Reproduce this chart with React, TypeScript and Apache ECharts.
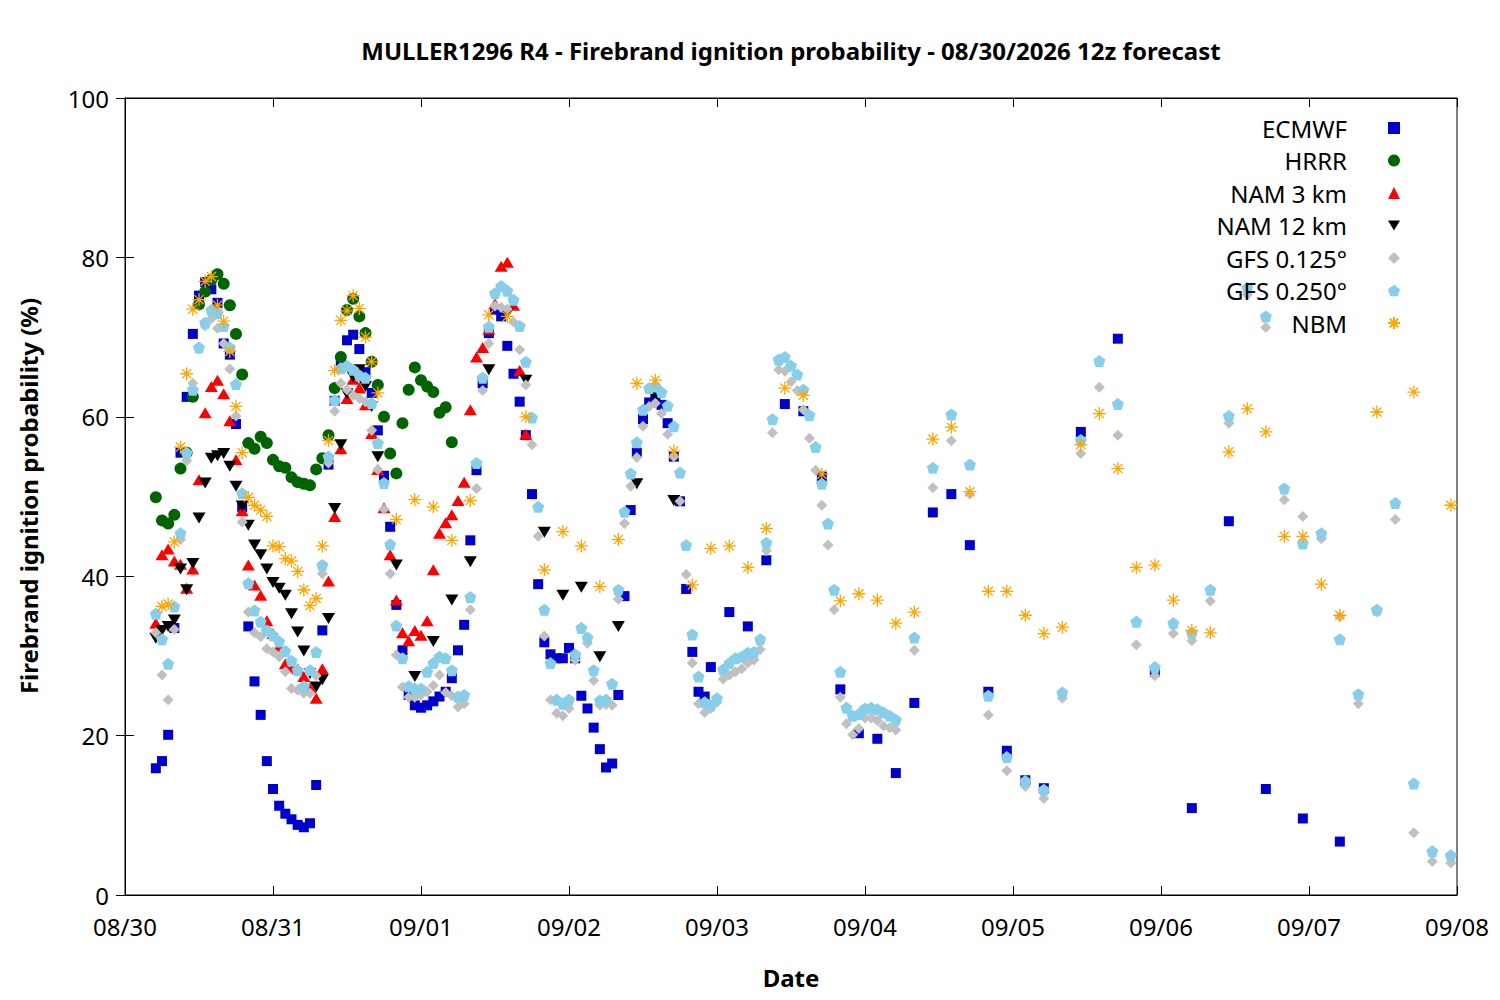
import React, { useEffect, useRef } from "react";
import * as echarts from "echarts";

// x = hours since 08/30 00:00 (local), y = ignition probability (%)
const dateLabels = ["08/30", "08/31", "09/01", "09/02", "09/03", "09/04", "09/05", "09/06", "09/07", "09/08"];

// ECMWF: hourly from h5, 3-hourly from h98, 6-hourly from h155
const ecmwfHourly = [
  15.9, 16.8, 20.1, 33.5, 55.5, 62.5, 70.4, 75.2, 76.9, 76.0,
  74.3, 69.2, 67.8, 59.1, 48.7, 33.7, 26.8, 22.6, 16.8, 13.3,
  11.2, 10.2, 9.5, 8.8, 8.5, 9.0, 13.8, 33.2, 54.0, 62.0,
  66.5, 69.6, 70.3, 68.5, 65.6, 63.0, 58.3, 52.6, 46.2, 36.4,
  30.7, 25.1, 23.8, 23.5, 23.8, 24.3, 24.9, 25.5, 27.2, 30.7,
  33.9, 44.5, 53.3, 64.2, 70.5, 73.4, 72.6, 68.9, 65.4, 61.9,
  57.7, 50.3, 39.0, 31.7, 30.2, 29.7, 29.7, 31.0, 29.7, 25.0,
  23.4, 21.0, 18.3, 16.0, 16.5, 25.1, 37.5, 48.3, 55.5, 59.7,
  61.8, 62.3, 61.5, 59.2, 55.0, 49.4, 38.4, 30.5, 25.5, 24.9, 28.6,
];
const ecmwf3h = [35.5, 33.7, 42.0, 61.6, 60.7, 52.5, 25.8, 20.3, 19.6, 15.3, 24.1, 48.0, 50.3, 43.9, 25.5, 18.1, 14.4, 13.4];
const ecmwf6h = [58.1, 69.8, 28.0, 10.9, 46.9, 13.3, 9.6, 6.7];

// HRRR: hourly from h5
const hrrrHourly = [
  49.9, 47.0, 46.6, 47.7, 53.5, 55.5, 62.5, 74.1, 75.7, 77.2,
  77.9, 76.7, 74.0, 70.4, 65.3, 56.7, 56.0, 57.5, 56.7, 54.6,
  53.8, 53.6, 52.4, 51.8, 51.6, 51.4, 53.4, 54.8, 57.7, 63.6,
  67.5, 73.4, 74.8, 72.6, 70.5, 66.9, 64.0, 60.0, 55.4, 52.9,
  59.2, 63.4, 66.2, 64.6, 63.8, 63.1, 60.5, 61.2, 56.8,
];

// NAM 3 km: hourly from h5
const nam3Hourly = [
  34.1, 42.7, 43.4, 41.9, 41.5, 38.5, 40.9, 52.1, 60.5, 63.8,
  64.6, 62.9, 59.5, 54.6, 48.2, 41.4, 38.9, 37.6, 34.4, 32.8,
  31.2, 29.0, 28.6, 28.4, 27.4, 26.0, 24.7, 28.4, 39.4, 47.5,
  56.0, 62.3, 64.7, 63.6, 61.5, 57.9, 53.4, 48.6, 42.7, 37.0,
  32.9, 31.9, 33.2, 32.6, 34.4, 40.8, 45.4, 46.7, 47.7, 49.5,
  51.8, 60.9, 67.5, 68.7, 71.0, 74.2, 78.9, 79.4, 74.0, 65.8, 57.8,
];

// NAM 12 km: hourly from h5, 3-hourly from h44
const nam12Hourly = [
  32.2, 33.2, 33.7, 34.5, 40.9, 38.3, 41.6, 47.3, 51.7, 54.8,
  55.1, 55.4, 53.8, 51.3, 48.8, 46.4, 43.9, 42.7, 40.9, 39.2,
  38.5, 37.6, 35.3, 33.0, 30.6, 27.8, 26.1, 27.0, 34.7, 48.5,
  56.5, 62.9, 65.0, 65.9, 63.8, 61.3, 55.0,
];
const nam12_3h = [41.4, 27.4, 31.8, 37.0, 41.8, 65.9, 73.0, 64.6, 45.5, 37.6, 38.6, 29.9, 33.7, 51.6, 62.7, 49.5];

// GFS 0.125: hourly from h5, 3-hourly from h128
const gfs125Hourly = [
  32.9, 27.6, 24.5, 33.3, 44.6, 54.5, 64.2, 68.5, 71.4, 72.3,
  71.1, 69.2, 66.0, 60.1, 46.8, 35.5, 32.9, 32.4, 30.9, 30.5,
  29.9, 28.0, 25.9, 25.7, 25.3, 25.3, 27.5, 40.3, 54.2, 60.7,
  64.2, 63.4, 62.7, 62.3, 61.9, 58.3, 53.4, 48.4, 40.3, 30.1,
  26.1, 24.8, 24.8, 25.1, 25.5, 26.3, 27.6, 25.4, 25.0, 23.6,
  24.0, 35.8, 51.0, 63.3, 69.2, 73.9, 73.7, 73.5, 71.9, 68.4,
  64.0, 56.5, 45.0, 32.5, 24.5, 22.8, 22.5, 23.4, 29.5, 33.6,
  31.6, 26.9, 23.8, 23.9, 23.8, 37.1, 46.6, 51.3, 54.9, 58.8,
  61.3, 61.7, 60.4, 57.8, 55.0, 49.4, 40.2, 29.1, 24.0, 22.9,
  23.4, 24.2, 27.1, 27.6, 28.0, 28.4, 29.1, 29.5, 30.8, 43.2,
  58.0, 65.9, 65.7, 64.4, 63.3, 60.9, 57.3, 53.3, 48.9, 43.9,
  35.8, 24.8, 21.5, 20.1, 20.9, 22.2, 22.2, 21.9, 21.2, 21.0, 20.7,
];
const gfs125_3h = [
  30.7, 51.1, 57.0, 50.3, 22.6, 15.6, 13.6, 12.1, 24.7, 55.4,
  63.7, 57.7, 31.4, 27.5, 32.8, 31.9, 36.9, 59.2, 75.3, 71.2,
  49.6, 47.5, 44.7, 34.9, 24.0, 35.5, 47.1, 7.8, 4.2, 4.0,
];

// GFS 0.250: hourly from h5, 3-hourly from h128
const gfs250Hourly = [
  35.3, 32.1, 29.0, 36.2, 45.4, 55.5, 63.4, 68.7, 71.8, 73.4,
  73.0, 71.4, 68.7, 64.1, 50.4, 39.1, 35.7, 34.3, 33.2, 32.6,
  31.8, 30.6, 29.4, 28.2, 26.2, 28.2, 30.5, 41.4, 55.0, 62.1,
  66.1, 66.4, 65.9, 65.2, 64.9, 61.7, 56.7, 51.7, 44.0, 33.8,
  29.7, 26.2, 25.9, 25.9, 28.0, 29.1, 29.9, 29.7, 28.2, 24.9,
  25.1, 37.4, 54.2, 64.9, 71.3, 75.5, 76.4, 75.8, 74.7, 71.4,
  66.9, 59.9, 48.7, 35.8, 29.1, 24.5, 24.0, 24.5, 30.2, 33.5,
  32.3, 28.2, 24.4, 24.5, 26.5, 38.3, 48.1, 52.9, 56.8, 60.9,
  63.6, 63.8, 63.1, 61.4, 58.8, 53.0, 43.9, 32.7, 27.4, 24.2,
  23.8, 24.7, 28.3, 29.1, 29.7, 29.9, 30.4, 30.5, 32.1, 44.2,
  59.7, 67.2, 67.5, 66.4, 65.3, 63.4, 60.2, 56.2, 51.6, 46.6,
  38.3, 28.0, 23.5, 22.5, 22.7, 23.4, 23.5, 23.3, 22.9, 22.5, 22.0,
];
const gfs250_3h = [
  32.3, 53.6, 60.3, 54.0, 25.0, 17.3, 14.3, 13.2, 25.4, 57.1,
  67.0, 61.6, 34.3, 28.6, 34.1, 32.9, 38.3, 60.1, 76.2, 72.6,
  51.0, 44.1, 45.4, 32.1, 25.2, 35.8, 49.2, 14.0, 5.5, 5.0,
];

// NBM: hourly from h6, 3-hourly from h44, 6-hourly from h203
const nbmHourly = [
  36.2, 36.5, 44.3, 56.2, 65.4, 73.5, 74.7, 77.0, 77.6, 74.0,
  72.0, 68.2, 61.3, 55.5, 49.9, 48.9, 48.3, 47.5, 43.8, 43.7,
  42.2, 41.9, 40.6, 38.3, 36.3, 37.2, 43.8, 57.0, 65.8, 72.1,
  73.3, 75.2, 73.6, 70.0, 66.9, 63.0,
];
const nbm3h = [
  47.1, 49.6, 48.7, 44.5, 49.5, 72.8, 72.6, 60.0, 40.8, 45.6,
  43.8, 38.7, 44.6, 64.2, 64.6, 55.7, 38.9, 43.5, 43.8, 41.1,
  46.0, 63.6, 62.7, 52.8, 36.9, 37.8, 37.0, 34.1, 35.5, 57.2,
  58.7, 50.6, 38.1, 38.1, 35.1, 32.8, 33.6, 56.5, 60.4, 53.5,
  41.1, 41.4, 37.0, 33.2, 32.9, 55.6, 61.0, 58.1, 45.0, 45.0,
  39.0, 35.1,
];
const nbm6h = [60.6, 63.1, 48.9];

const seg = (start: number, step: number, values: number[]) =>
  values.map((v, i) => [start + i * step, v]);

const FONT = "Noto Sans";
const PENTAGON = "path://M50,0 L97.6,34.5 L79.4,90.5 L20.6,90.5 L2.4,34.5 Z";
const DOWN_TRI = "path://M0,0 L20,0 L10,17 Z";
const ASTERISK = "path://M0,50 L100,50 M50,0 L50,100 M15,15 L85,85 M85,15 L15,85";

export default function App() {
  const ref = useRef<HTMLDivElement>(null);
  useEffect(() => {
    if (!ref.current) return;
    const chart = echarts.init(ref.current, undefined, { renderer: "svg" });
    const xCommon = {
      type: "value",
      min: 0,
      max: 216,
      interval: 24,
      splitLine: { show: false },
      axisLine: { show: true, onZero: false, lineStyle: { color: "#000", width: 1 } },
      axisTick: { show: true, inside: true, length: 9, lineStyle: { color: "#000" } },
    };
    const yCommon = {
      type: "value",
      min: 0,
      max: 100,
      interval: 20,
      splitLine: { show: false },
      axisLine: { show: true, lineStyle: { color: "#000", width: 1 } },
      axisTick: { show: true, inside: true, length: 9, lineStyle: { color: "#000" } },
    };
    const scatter = (name: string, data: number[][], symbol: string, size: any, color: string, extra: any = {}) => ({
      name,
      type: "scatter",
      data,
      symbol,
      symbolSize: size,
      itemStyle: { color, opacity: 1, ...(extra.itemStyle || {}) },
      emphasis: { disabled: true },
      z: 2,
    });
    const bold24 = `bold 24px "${FONT}"`;
    chart.setOption({
      animation: false,
      backgroundColor: "#fff",
      grid: { left: 125, right: 43, top: 98, bottom: 105, show: true, borderColor: "#000", borderWidth: 1, backgroundColor: "transparent" },
      xAxis: [
        {
          ...xCommon,
          position: "bottom",
          axisLabel: {
            show: true,
            margin: 19,
            fontSize: 24,
            fontFamily: FONT,
            color: "#000",
            showMinLabel: true,
            showMaxLabel: true,
            formatter: (v: number) => dateLabels[Math.round(v / 24)] || "",
          },
        },
        { ...xCommon, position: "top", axisLabel: { show: false } },
      ],
      yAxis: [
        {
          ...yCommon,
          position: "left",
          axisLabel: { show: true, margin: 16, fontSize: 24, fontFamily: FONT, color: "#000" },
        },
        { ...yCommon, position: "right", axisLabel: { show: false } },
      ],
      legend: {
        orient: "vertical",
        right: 99,
        top: 116,
        align: "right",
        itemWidth: 12,
        itemHeight: 12,
        itemGap: 8.5,
        padding: 0,
        selectedMode: false,
        textStyle: { fontSize: 24, fontFamily: FONT, color: "#000", lineHeight: 24, padding: [0, 36, 0, 0] },
        data: ["ECMWF", "HRRR", "NAM 3 km", "NAM 12 km", "GFS 0.125°", "GFS 0.250°", "NBM"],
      },
      graphic: [
        {
          type: "text",
          x: 791,
          y: 50,
          style: {
            text: "MULLER1296 R4 - Firebrand ignition probability - 08/30/2026 12z forecast",
            fill: "#000",
            font: bold24,
            textAlign: "center",
            textVerticalAlign: "middle",
            align: "center",
            verticalAlign: "middle",
          },
        },
        {
          type: "text",
          x: 791,
          y: 977,
          style: {
            text: "Date",
            fill: "#000",
            font: bold24,
            textAlign: "center",
            textVerticalAlign: "middle",
            align: "center",
            verticalAlign: "middle",
          },
        },
        {
          type: "text",
          x: 28,
          y: 496,
          rotation: Math.PI / 2,
          style: {
            text: "Firebrand ignition probability (%)",
            fill: "#000",
            font: bold24,
            textAlign: "center",
            textVerticalAlign: "middle",
            align: "center",
            verticalAlign: "middle",
          },
        },
      ],
      series: [
        scatter("ECMWF", [...seg(5, 1, ecmwfHourly), ...seg(98, 3, ecmwf3h), ...seg(155, 6, ecmwf6h)], "rect", 10, "#0000cc"),
        scatter("HRRR", seg(5, 1, hrrrHourly), "circle", 12, "#006400"),
        scatter("NAM 3 km", seg(5, 1, nam3Hourly), "triangle", [13, 11], "#ff0000"),
        scatter("NAM 12 km", [...seg(5, 1, nam12Hourly), ...seg(44, 3, nam12_3h)], DOWN_TRI, [13, 11], "#000000"),
        scatter("GFS 0.125°", [...seg(5, 1, gfs125Hourly), ...seg(128, 3, gfs125_3h)], "diamond", 11, "#c0c0c0"),
        scatter("GFS 0.250°", [...seg(5, 1, gfs250Hourly), ...seg(128, 3, gfs250_3h)], PENTAGON, 12, "#87ceeb"),
        scatter("NBM", [...seg(6, 1, nbmHourly), ...seg(44, 3, nbm3h), ...seg(203, 6, nbm6h)], ASTERISK, 13, "#ffa500", {
          itemStyle: { borderColor: "#ffa500", borderWidth: 1.3 },
        }),
      ],
    });
    return () => chart.dispose();
  }, []);
  return <div ref={ref} style={{ position: "absolute", left: 0, top: 0, width: 1500, height: 1000 }} />;
}
